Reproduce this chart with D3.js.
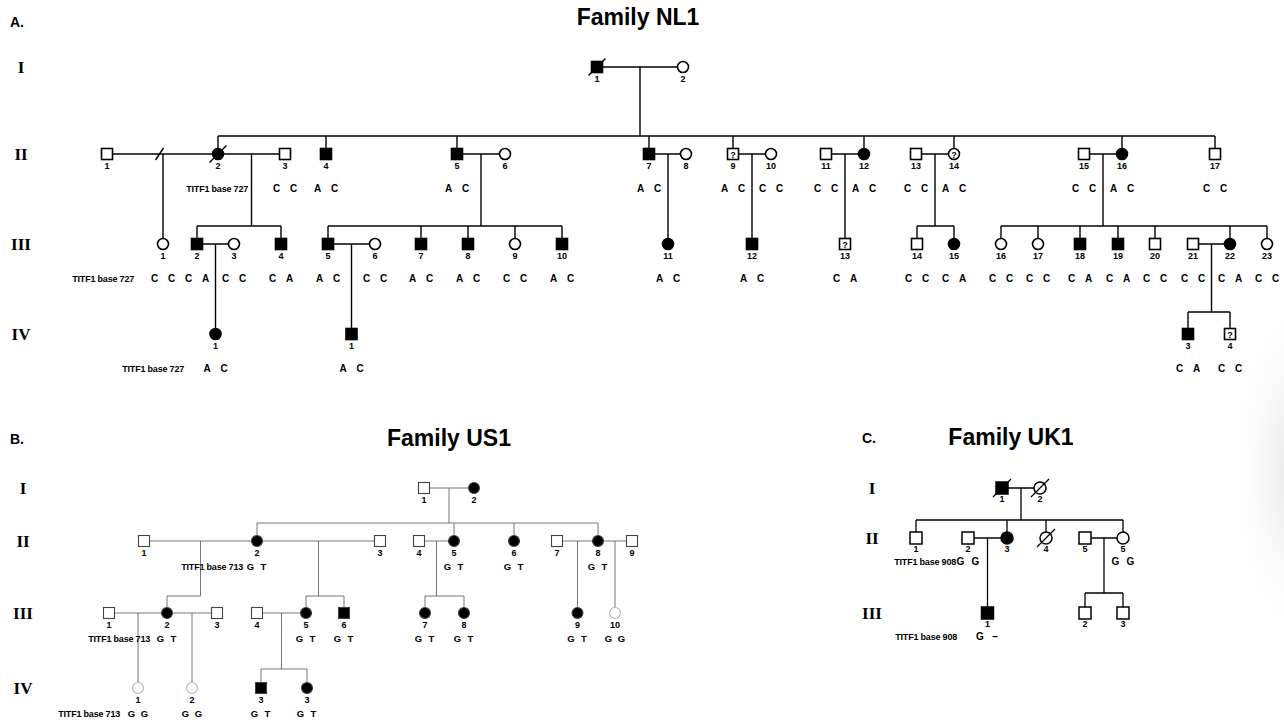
<!DOCTYPE html>
<html>
<head>
<meta charset="utf-8">
<script src="https://cdn.jsdelivr.net/npm/d3@7"></script>
<style>
  body { margin: 0; background: #fff; }
  svg { display: block; }
</style>
</head>
<body>
<div class="container"></div>
<script>
// ---------- data ----------
// people: [key, generation, label, sex, affected, col, flags]  flags: d = deceased, q = unknown status
const nl1People = [
  ["I-1", 1, "1", "M", 1, 59.7, "d"],
  ["I-2", 1, "2", "F", 0, 68.3],
  ["II-1", 2, "1", "M", 0, 10.7],
  ["II-2", 2, "2", "F", 1, 21.8, "d"],
  ["II-3", 2, "3", "M", 0, 28.5],
  ["II-4", 2, "4", "M", 1, 32.6],
  ["II-5", 2, "5", "M", 1, 45.7],
  ["II-6", 2, "6", "F", 0, 50.5],
  ["II-7", 2, "7", "M", 1, 64.9],
  ["II-8", 2, "8", "F", 0, 68.6],
  ["II-9", 2, "9", "M", 0, 73.3, "q"],
  ["II-10", 2, "10", "F", 0, 77.1],
  ["II-11", 2, "11", "M", 0, 82.6],
  ["II-12", 2, "12", "F", 1, 86.4],
  ["II-13", 2, "13", "M", 0, 91.6],
  ["II-14", 2, "14", "F", 0, 95.4, "q"],
  ["II-15", 2, "15", "M", 0, 108.4],
  ["II-16", 2, "16", "F", 1, 112.2],
  ["II-17", 2, "17", "M", 0, 121.5],
  ["III-1", 3, "1", "F", 0, 16.3],
  ["III-2", 3, "2", "M", 1, 19.7],
  ["III-3", 3, "3", "F", 0, 23.4],
  ["III-4", 3, "4", "M", 1, 28.1],
  ["III-5", 3, "5", "M", 1, 32.8],
  ["III-6", 3, "6", "F", 0, 37.5],
  ["III-7", 3, "7", "M", 1, 42.1],
  ["III-8", 3, "8", "M", 1, 46.8],
  ["III-9", 3, "9", "F", 0, 51.5],
  ["III-10", 3, "10", "M", 1, 56.2],
  ["III-11", 3, "11", "F", 1, 66.8],
  ["III-12", 3, "12", "M", 1, 75.2],
  ["III-13", 3, "13", "M", 0, 84.5, "q"],
  ["III-14", 3, "14", "M", 0, 91.7],
  ["III-15", 3, "15", "F", 1, 95.4],
  ["III-16", 3, "16", "F", 0, 100.1],
  ["III-17", 3, "17", "F", 0, 103.8],
  ["III-18", 3, "18", "M", 1, 108.0],
  ["III-19", 3, "19", "M", 1, 111.8],
  ["III-20", 3, "20", "M", 0, 115.5],
  ["III-21", 3, "21", "M", 0, 119.3],
  ["III-22", 3, "22", "F", 1, 123.0],
  ["III-23", 3, "23", "F", 0, 126.7],
  ["IV-1a", 4, "1", "F", 1, 21.55],
  ["IV-1b", 4, "1", "M", 1, 35.15],
  ["IV-3", 4, "3", "M", 1, 118.8],
  ["IV-4", 4, "4", "M", 0, 123.0, "q"],
];

// unions: [partner a, partner b, children, flag]  flag: sep = separated
const nl1Unions = [
  ["I-1", "I-2", ["II-2", "II-4", "II-5", "II-7", "II-9", "II-12", "II-14", "II-16", "II-17"]],
  ["II-1", "II-2", ["III-1"], "sep"],
  ["II-2", "II-3", ["III-2", "III-4"]],
  ["II-5", "II-6", ["III-5", "III-7", "III-8", "III-9", "III-10"]],
  ["II-7", "II-8", ["III-11"]],
  ["II-9", "II-10", ["III-12"]],
  ["II-11", "II-12", ["III-13"]],
  ["II-13", "II-14", ["III-14", "III-15"]],
  ["II-15", "II-16", ["III-16", "III-17", "III-18", "III-19", "III-20", "III-22", "III-23"]],
  ["III-2", "III-3", ["IV-1a"]],
  ["III-5", "III-6", ["IV-1b"]],
  ["III-21", "III-22", ["IV-3", "IV-4"]],
];

// genotypes at TITF1 base 727
const nl1Geno = [
  ["II-3", "C", "C"], ["II-4", "A", "C"], ["II-5", "A", "C"], ["II-7", "A", "C"],
  ["II-9", "A", "C"], ["II-10", "C", "C"], ["II-11", "C", "C"], ["II-12", "A", "C"],
  ["II-13", "C", "C"], ["II-14", "A", "C"], ["II-15", "C", "C"], ["II-16", "A", "C"],
  ["II-17", "C", "C"],
  ["III-1", "C", "C"], ["III-2", "C", "A"], ["III-3", "C", "C"], ["III-4", "C", "A"],
  ["III-5", "A", "C"], ["III-6", "C", "C"], ["III-7", "A", "C"], ["III-8", "A", "C"],
  ["III-9", "C", "C"], ["III-10", "A", "C"], ["III-11", "A", "C"], ["III-12", "A", "C"],
  ["III-13", "C", "A"], ["III-14", "C", "C"], ["III-15", "C", "A"], ["III-16", "C", "C"],
  ["III-17", "C", "C"], ["III-18", "C", "A"], ["III-19", "C", "A"], ["III-20", "C", "C"],
  ["III-21", "C", "C"], ["III-22", "C", "A"], ["III-23", "C", "C"],
  ["IV-1a", "A", "C"], ["IV-1b", "A", "C"], ["IV-3", "C", "A"], ["IV-4", "C", "C"],
];
const nl1Markers = [[2, "TITF1 base 727"], [3, "TITF1 base 727"], [4, "TITF1 base 727"]];

const us1People = [
  ["I-1", 1, "1", "M", 0, 42.4],
  ["I-2", 1, "2", "F", 1, 47.4],
  ["II-1", 2, "1", "M", 0, 14.4],
  ["II-2", 2, "2", "F", 1, 25.7],
  ["II-3", 2, "3", "M", 0, 38.0],
  ["II-4", 2, "4", "M", 0, 41.9],
  ["II-5", 2, "5", "F", 1, 45.4],
  ["II-6", 2, "6", "F", 1, 51.4],
  ["II-7", 2, "7", "M", 0, 55.7],
  ["II-8", 2, "8", "F", 1, 59.8],
  ["II-9", 2, "9", "M", 0, 63.2],
  ["III-1", 3, "1", "M", 0, 10.9],
  ["III-2", 3, "2", "F", 1, 16.7],
  ["III-3", 3, "3", "M", 0, 21.7],
  ["III-4", 3, "4", "M", 0, 25.7],
  ["III-5", 3, "5", "F", 1, 30.6],
  ["III-6", 3, "6", "M", 1, 34.4],
  ["III-7", 3, "7", "F", 1, 42.5],
  ["III-8", 3, "8", "F", 1, 46.4],
  ["III-9", 3, "9", "F", 1, 57.75],
  ["III-10", 3, "10", "F", 0, 61.5],
  ["IV-1", 4, "1", "F", 0, 13.8],
  ["IV-2", 4, "2", "F", 0, 19.2],
  ["IV-3a", 4, "3", "M", 1, 26.1],
  ["IV-3b", 4, "3", "F", 1, 30.7],
];
const us1Unions = [
  ["I-1", "I-2", ["II-2", "II-5", "II-6", "II-8"]],
  ["II-1", "II-2", ["III-2"]],
  ["II-2", "II-3", ["III-5", "III-6"]],
  ["II-4", "II-5", ["III-7", "III-8"]],
  ["II-7", "II-8", ["III-9"]],
  ["II-8", "II-9", ["III-10"]],
  ["III-1", "III-2", ["IV-1"]],
  ["III-2", "III-3", ["IV-2"]],
  ["III-4", "III-5", ["IV-3a", "IV-3b"]],
];
// genotypes at TITF1 base 713
const us1Geno = [
  ["II-2", "G", "T"], ["II-5", "G", "T"], ["II-6", "G", "T"], ["II-8", "G", "T"],
  ["III-2", "G", "T"], ["III-5", "G", "T"], ["III-6", "G", "T"], ["III-7", "G", "T"],
  ["III-8", "G", "T"], ["III-9", "G", "T"], ["III-10", "G", "G"],
  ["IV-1", "G", "G"], ["IV-2", "G", "G"], ["IV-3a", "G", "T"], ["IV-3b", "G", "T"],
];
const us1Markers = [[2, "TITF1 base 713"], [3, "TITF1 base 713"], [4, "TITF1 base 713"]];

const uk1People = [
  ["I-1", 1, "1", "M", 1, 100.2, "d"],
  ["I-2", 1, "2", "F", 0, 104.0, "d"],
  ["II-1", 2, "1", "M", 0, 91.6],
  ["II-2", 2, "2", "M", 0, 96.8],
  ["II-3", 2, "3", "F", 1, 100.7],
  ["II-4", 2, "4", "F", 0, 104.6, "d"],
  ["II-5a", 2, "5", "M", 0, 108.5],
  ["II-5b", 2, "5", "F", 0, 112.3],
  ["III-1", 3, "1", "M", 1, 98.75],
  ["III-2", 3, "2", "M", 0, 108.5],
  ["III-3", 3, "3", "M", 0, 112.3],
];
const uk1Unions = [
  ["I-1", "I-2", ["II-1", "II-3", "II-4", "II-5b"]],
  ["II-2", "II-3", ["III-1"]],
  ["II-5a", "II-5b", ["III-2", "III-3"]],
];
// genotypes at TITF1 base 908
const uk1Geno = [["II-2", "G", "G"], ["II-5b", "G", "G"], ["III-1", "G", "\u2013"]];
const uk1Markers = [[2, "TITF1 base 908"], [3, "TITF1 base 908"]];

const romans = ["I", "II", "III", "IV"];

// ---------- layout ----------
const W = 1284, H = 722;
const x = d3.scaleLinear().domain([0, 128.4]).range([0, W]);

const families = [
  {
    letter: "A.", letterX: 10, title: "Family NL1", titleX: 638, titleY: 25, letterY: 27,
    people: nl1People, unions: nl1Unions, geno: nl1Geno, markers: nl1Markers,
    genY: [67, 154, 244, 334], sibY: [0, 136, 226, 312], markerEnd: [0, 248, 134, 184],
    romanX: 21, size: 11, line: "#000", lw: 1.4, sym: "#000", numDy: 15,
    genoDy: 37.5, spread: 8.5, genoFont: 10, faint: []
  },
  {
    letter: "B.", letterX: 10, title: "Family US1", titleX: 449, titleY: 446, letterY: 444,
    people: us1People, unions: us1Unions, geno: us1Geno, markers: us1Markers,
    genY: [488, 541, 613, 688], sibY: [0, 523, 596, 669], markerEnd: [0, 243, 150, 120],
    romanX: 23, size: 11, line: "#666", lw: 0.9, sym: "#444", numDy: 15,
    genoDy: 29, spread: 6.5, genoFont: 9.5, faint: ["III-10", "IV-1", "IV-2"]
  },
  {
    letter: "C.", letterX: 862, title: "Family UK1", titleX: 1011, titleY: 445, letterY: 443,
    people: uk1People, unions: uk1Unions, geno: uk1Geno, markers: uk1Markers,
    genY: [488, 538, 613], sibY: [0, 520, 593], markerEnd: [0, 956, 957],
    romanX: 872, size: 12, line: "#000", lw: 1.3, sym: "#000", numDy: 14,
    genoDy: 26.5, spread: 7.5, genoFont: 10, faint: []
  },
];

const svg = d3.select(".container").append("svg")
  .attr("width", W).attr("height", H)
  .attr("viewBox", [0, 0, W, H])
  .style("font-family", "Arial, 'Liberation Sans', sans-serif");

// faint grey shading at the right edge of the scanned page
const defs = svg.append("defs");
const shade = defs.append("radialGradient").attr("id", "shade");
shade.append("stop").attr("offset", "0%").attr("stop-color", "#e6e6e6");
shade.append("stop").attr("offset", "100%").attr("stop-color", "#fff").attr("stop-opacity", 0);

svg.append("rect").attr("width", W).attr("height", H).attr("fill", "#fff");
svg.append("ellipse")
  .attr("cx", W + 10).attr("cy", 470).attr("rx", 70).attr("ry", 190)
  .attr("fill", "url(#shade)");

families.forEach(fam => drawFamily(svg, fam));

function drawFamily(svg, fam) {
  const g = svg.append("g");
  const people = fam.people.map(p => ({
    key: p[0], gen: p[1], label: p[2], sex: p[3], aff: p[4], col: p[5], flag: p[6] || ""
  }));
  const byKey = new Map(people.map(p => [p.key, p]));
  const gens = d3.range(1, fam.genY.length + 1);
  const y = d3.scaleOrdinal().domain(gens).range(fam.genY);
  const sibY = d3.scaleOrdinal().domain(gens).range(fam.sibY);
  const s = fam.size, r = s / 2;

  // section letter and title
  g.append("text").attr("x", fam.letterX).attr("y", fam.letterY)
    .attr("font-size", 14).attr("font-weight", "bold").text(fam.letter);
  g.append("text").attr("x", fam.titleX).attr("y", fam.titleY)
    .attr("text-anchor", "middle").attr("font-size", 23).attr("font-weight", "bold")
    .text(fam.title);

  // generation numerals
  g.append("g").selectAll("text").data(gens).join("text")
    .attr("x", fam.romanX).attr("y", d => y(d) + 6)
    .attr("text-anchor", "middle")
    .attr("font-family", "'Liberation Serif', 'Times New Roman', serif")
    .attr("font-weight", "bold").attr("font-size", 17)
    .text(d => romans[d - 1]);

  // connecting lines
  const segs = [];
  fam.unions.forEach(([a, b, kids, flag]) => {
    const pa = byKey.get(a), pb = byKey.get(b);
    const y0 = y(pa.gen);
    const xa = x(pa.col), xb = x(pb.col);
    segs.push([xa, y0, xb, y0]);
    const dx = (xa + xb) / 2;
    const ks = kids.map(k => byKey.get(k));
    const top = y(ks[0].gen) - r;
    const kx = ks.map(k => x(k.col));
    if (ks.length === 1 && Math.abs(kx[0] - dx) < 3) {
      segs.push([kx[0], y0, kx[0], top]);
    } else {
      const sy = sibY(ks[0].gen);
      segs.push([dx, y0, dx, sy]);
      segs.push([d3.min(kx.concat(dx)), sy, d3.max(kx.concat(dx)), sy]);
      kx.forEach(k => segs.push([k, sy, k, top]));
    }
    if (flag === "sep") segs.push([dx - 7, y0 + 6, dx + 1, y0 - 6]);
  });

  g.append("g").selectAll("line").data(segs).join("line")
    .attr("x1", d => d[0]).attr("y1", d => d[1])
    .attr("x2", d => d[2]).attr("y2", d => d[3])
    .attr("stroke", fam.line).attr("stroke-width", fam.lw);

  // symbols
  const symColor = d => fam.faint.includes(d.key) ? "#b5b5b5" : fam.sym;
  const nodes = g.append("g").selectAll("g").data(people).join("g")
    .attr("transform", d => `translate(${x(d.col)},${y(d.gen)})`);

  nodes.filter(d => d.sex === "M").append("rect")
    .attr("x", -r).attr("y", -r).attr("width", s).attr("height", s);
  nodes.filter(d => d.sex === "F").append("circle").attr("r", r);
  nodes.selectAll("rect, circle")
    .attr("fill", function () { return d3.select(this.parentNode).datum().aff ? "#000" : "#fff"; })
    .attr("stroke", function () { return symColor(d3.select(this.parentNode).datum()); })
    .attr("stroke-width", fam.lw + 0.2);

  nodes.filter(d => d.flag.includes("d")).append("line")
    .attr("x1", -r - 3).attr("y1", r + 3).attr("x2", r + 3).attr("y2", -r - 3)
    .attr("stroke", fam.line).attr("stroke-width", fam.lw);

  nodes.filter(d => d.flag.includes("q")).append("text")
    .attr("text-anchor", "middle").attr("y", 3.5)
    .attr("font-size", 9).attr("font-weight", "bold")
    .text("?");

  nodes.append("text")
    .attr("text-anchor", "middle").attr("y", fam.numDy)
    .attr("font-size", 9).attr("font-weight", "bold")
    .text(d => d.label);

  // genotypes
  const gt = g.append("g").selectAll("g").data(fam.geno).join("g")
    .attr("transform", d => {
      const p = byKey.get(d[0]);
      return `translate(${x(p.col)},${y(p.gen) + fam.genoDy})`;
    })
    .attr("font-size", fam.genoFont).attr("font-weight", "bold")
    .attr("text-anchor", "middle");
  gt.append("text").attr("x", -fam.spread).text(d => d[1]);
  gt.append("text").attr("x", fam.spread).text(d => d[2]);

  // marker labels
  g.append("g").selectAll("text").data(fam.markers).join("text")
    .attr("x", d => fam.markerEnd[d[0] - 1])
    .attr("y", d => y(d[0]) + fam.genoDy)
    .attr("text-anchor", "end")
    .attr("font-size", 9).attr("font-weight", "bold")
    .attr("letter-spacing", -0.2)
    .text(d => d[1]);
}
</script>
</body>
</html>
